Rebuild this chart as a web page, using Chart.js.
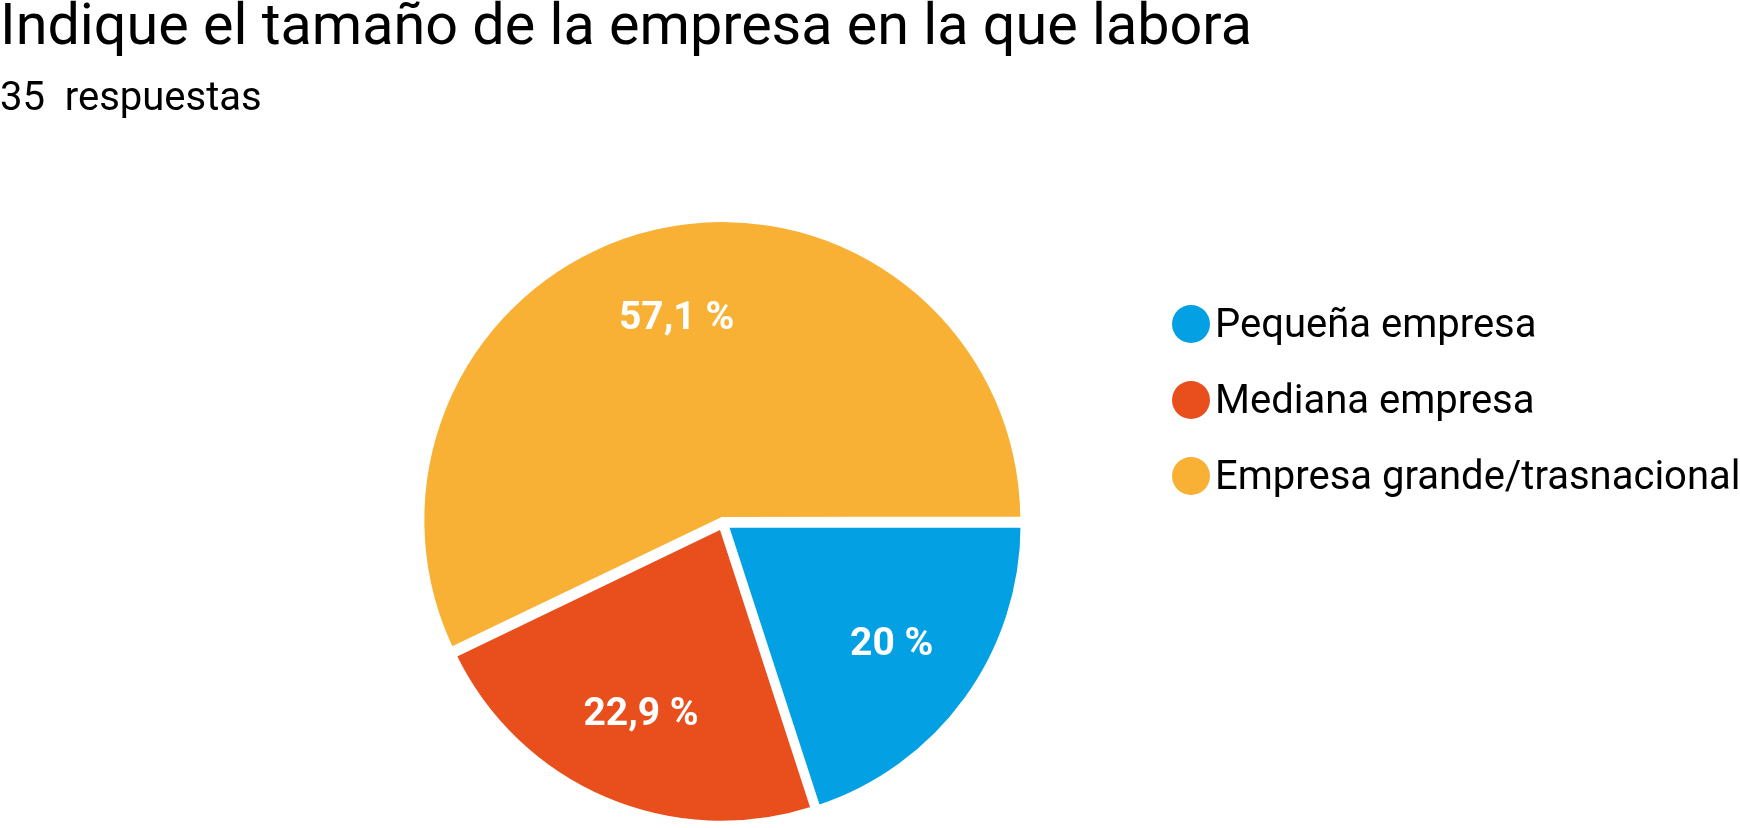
<!DOCTYPE html>
<html><head><meta charset="utf-8">
<script src="https://cdn.jsdelivr.net/npm/chart.js@4/dist/chart.umd.min.js"></script>
<style>
html,body{margin:0;padding:0;background:#fff;width:1740px;height:828px;overflow:hidden;font-family:Roboto,sans-serif;color:#000}
#title{position:absolute;left:0;top:-4px;font-size:57.5px;line-height:57.5px;white-space:nowrap}
#sub{position:absolute;left:0;top:77px;font-size:40px;line-height:40px;white-space:pre}
#chartWrap{position:absolute;left:0;top:0;width:1740px;height:860px}
.lg{position:absolute;left:1172px;height:40px;display:flex;align-items:center;font-size:40px;line-height:40px;white-space:nowrap}
.dot{width:38px;height:38px;border-radius:50%;margin-right:5px;flex:none}
</style></head>
<body>
<div id="chartWrap"><canvas id="c" width="1740" height="860"></canvas></div>
<div id="title">Indique el tamaño de la empresa en la que labora</div>
<div id="sub">35  respuestas</div>
<div id="legend"></div>
<script>
const categories = ["Pequeña empresa", "Mediana empresa", "Empresa grande/trasnacional"];
const responses = [7, 8, 20];
const colors = ["#03A1E3", "#E94F1C", "#F8B134"];

const total = responses.reduce((a, b) => a + b, 0);
const pctText = responses.map(v => {
  const p = Math.round(v / total * 1000) / 10;
  return String(p).replace('.', ',') + ' %';
});

const legendRows = [324, 400, 476];
const lg = document.getElementById('legend');
categories.forEach((c, i) => {
  const row = document.createElement('div');
  row.className = 'lg';
  row.style.top = (legendRows[i] - 20) + 'px';
  const d = document.createElement('span');
  d.className = 'dot';
  d.style.background = colors[i];
  const t = document.createElement('span');
  t.textContent = c;
  row.appendChild(d); row.appendChild(t);
  lg.appendChild(row);
});

const pctLabels = {
  id: 'pctLabels',
  afterDatasetsDraw(chart) {
    const ctx = chart.ctx;
    const meta = chart.getDatasetMeta(0);
    meta.data.forEach((arc, i) => {
      const p = arc.getProps(['x', 'y', 'startAngle', 'endAngle', 'outerRadius'], true);
      const mid = (p.startAngle + p.endAngle) / 2;
      const r = p.outerRadius * 0.70;
      ctx.save();
      ctx.fillStyle = '#fff';
      ctx.font = 'bold 39px Roboto';
      ctx.textAlign = 'center';
      ctx.textBaseline = 'middle';
      ctx.fillText(pctText[i], p.x + Math.cos(mid) * r, p.y + Math.sin(mid) * r);
      ctx.restore();
    });
  }
};

new Chart(document.getElementById('c'), {
  type: 'pie',
  data: {
    labels: categories,
    datasets: [{
      data: responses,
      backgroundColor: colors,
      borderColor: '#fff',
      borderWidth: 6,
      borderJoinStyle: 'miter',
      offset: 12,
      hoverOffset: 0
    }]
  },
  options: {
    responsive: false,
    animation: false,
    rotation: 90,
    layout: { padding: { left: 416, top: 216, right: 710, bottom: 30 } },
    plugins: {
      legend: { display: false },
      tooltip: { enabled: false },
      title: { display: false }
    }
  },
  plugins: [pctLabels]
});
</script>
</body></html>
